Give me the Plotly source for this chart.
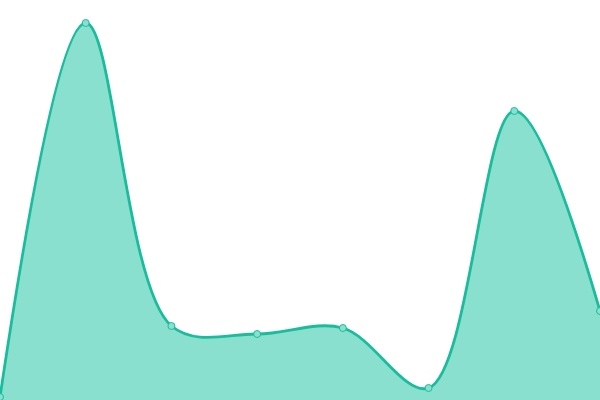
import plotly.graph_objects as go

# data (y in chart units, axis 0-400)
x_vals = [0, 1, 2, 3, 4, 5, 6, 7]
y_vals = [3, 377, 74, 66, 72, 12, 289, 89]

LINE = '#1abc9c'
FILL = '#8ae0cf'

fig = go.Figure(go.Scatter(
    x=x_vals,
    y=y_vals,
    mode='lines+markers',
    line=dict(color=LINE, width=2.8, shape='spline', smoothing=1),
    marker=dict(size=7, color=FILL, line=dict(color=LINE, width=1)),
    fill='tozeroy',
    fillcolor=FILL,
    hoverinfo='x+y',
))

fig.update_layout(
    width=600,
    height=400,
    margin=dict(l=0, r=0, t=0, b=0),
    paper_bgcolor='white',
    plot_bgcolor='white',
    showlegend=False,
    xaxis=dict(range=[0, 7], visible=False, fixedrange=True),
    yaxis=dict(range=[0, 400], visible=False, fixedrange=True),
)

# page body has a default 8px margin; drop it so the chart fills the window
fig.write_html("out.html", config={'displayModeBar': False},
               post_script="document.body.style.margin='0';")
